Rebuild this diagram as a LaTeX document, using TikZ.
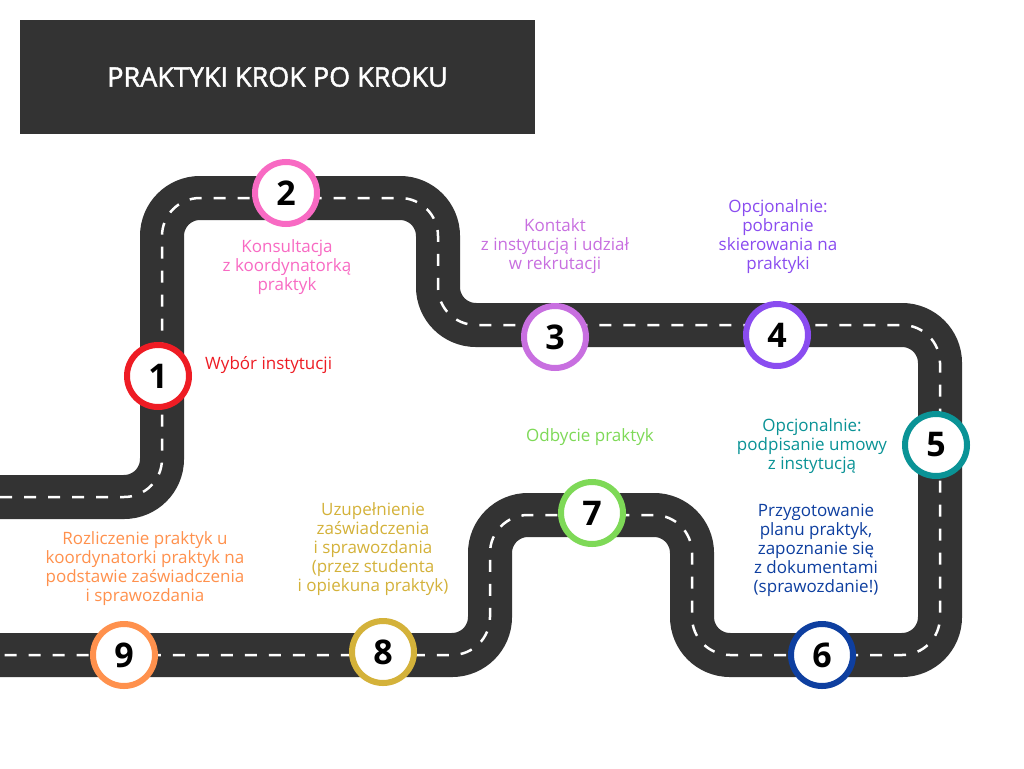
\documentclass[tikz,border=0pt]{standalone}
\usepackage{fontspec}
\setmainfont{Open Sans}
\definecolor{road}{HTML}{333333}
\definecolor{c1}{HTML}{EE1C24}
\definecolor{c2}{HTML}{F86AC3}
\definecolor{c3}{HTML}{C86FE0}
\definecolor{c4}{HTML}{8A4CF0}
\definecolor{c5}{HTML}{0A9396}
\definecolor{c6}{HTML}{0E3FA0}
\definecolor{c7}{HTML}{7ED957}
\definecolor{c8}{HTML}{D4B23A}
\definecolor{c9}{HTML}{FF914D}
\begin{document}
\begin{tikzpicture}[x=1pt,y=-1pt,
  step/.style={circle,draw=#1,line width=6pt,fill=white,minimum size=62pt,inner sep=0pt,font=\fontsize{34}{34}\selectfont\bfseries},
  lab/.style={text=#1,align=center,font=\fontsize{17}{19}\selectfont}]
\useasboundingbox (0,0) rectangle (1024,768);
\fill[white] (0,0) rectangle (1024,768);
\node[fill=road,minimum width=515pt,minimum height=114pt,inner sep=0pt,text=white,font=\fontsize{27}{27}\selectfont] (title) at (277.5,77) {\addfontfeatures{FakeBold=1.5}PRAKTYKI KROK PO KROKU};
\def\roadpath{(0,497) -- (162,497) -- (162,198) -- (438,198) -- (438,325) -- (940,325) -- (940,655) -- (692,655) -- (692,515) -- (490,515) -- (490,655) -- (-5,655)}
\draw[road,line width=44pt,rounded corners=38pt] \roadpath;
\draw[white,line width=2.5pt,dash pattern=on 12pt off 12pt,rounded corners=38pt] \roadpath;
\node[step=c1] (s1) at (158,376) {1};
\node[step=c2] (s2) at (286,193) {2};
\node[step=c3] (s3) at (555,337) {3};
\node[step=c4] (s4) at (777,335) {4};
\node[step=c5] (s5) at (936,445) {5};
\node[step=c6] (s6) at (822,655) {6};
\node[step=c7] (s7) at (592,513) {7};
\node[step=c8] (s8) at (383,652) {8};
\node[step=c9] (s9) at (124,655) {9};
\node[lab=c1,anchor=west,inner sep=0pt] (l1) at (205,365) {Wybór instytucji};
\node[lab=c2] (l2) at (287,267) {Konsultacja\\z koordynatorką\\praktyk};
\node[lab=c3] (l3) at (555,246) {Kontakt\\z instytucją i udział\\w rekrutacji};
\node[lab=c4] (l4) at (778,237) {Opcjonalnie:\\pobranie\\skierowania na\\praktyki};
\node[lab=c5] (l5) at (812,446) {Opcjonalnie:\\podpisanie umowy\\z instytucją};
\node[lab=c6] (l6) at (816,550) {Przygotowanie\\planu praktyk,\\zapoznanie się\\z dokumentami\\(sprawozdanie!)};
\node[lab=c7] (l7) at (590,437) {Odbycie praktyk};
\node[lab=c8] (l8) at (373,549) {Uzupełnienie\\zaświadczenia\\i sprawozdania\\(przez studenta\\i opiekuna praktyk)};
\node[lab=c9] (l9) at (145,569) {Rozliczenie praktyk u\\koordynatorki praktyk na\\podstawie zaświadczenia\\i sprawozdania};
\end{tikzpicture}
\end{document}
